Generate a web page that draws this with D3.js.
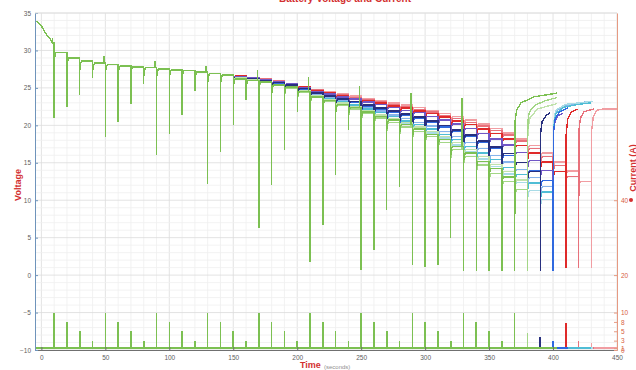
<!DOCTYPE html>
<html>
<head>
<meta charset="utf-8">
<script src="https://cdn.jsdelivr.net/npm/d3@7"></script>
<style>
  html, body { margin: 0; padding: 0; background: #fff; }
  svg { display: block; font-family: "Liberation Sans", Arial, sans-serif; }
</style>
</head>
<body>
<svg id="chart" width="636" height="370"></svg>
<script>
// opening relaxation before the first pulse
const initTime = [-5, -3, -1, 1, 3, 5, 7, 8.5]
const initVoltage = [33.9, 33.8, 33.5, 33.0, 32.4, 31.9, 31.5, 31.0]

// pulse schedule (s), pulse minimum voltage, pulse current (A)
const pulseTimes = [10, 20, 30, 40, 50, 60, 70, 80, 90, 100, 110, 120, 130, 140, 150, 160, 170, 180, 190, 200,
	210, 220, 230, 240, 250, 260, 270, 280, 290, 300, 310, 320, 330, 340, 350, 360, 370, 380, 390, 400, 410, 420, 430]
const pulseMin = [21.0, 22.5, 24.0, 26.3, 18.5, 20.5, 22.8, 25.5, 16.0, 18.8, 21.4, 24.6, 12.2, 16.5, 20.0, 23.4,
	6.3, 12.0, 16.7, 21.8, 1.8, 6.7, 13.4, 19.4, 0.7, 3.4, 8.7, 11.7, 1.4, 1.1, 1.4, 5.0, 0.5, 0.5, 0.5, 0.5,
	0.5, 0.5, 0.5, 0.5, 1.0, 1.0, 1.0]
const pulseCurrent = [10, 7.5, 5, 2.5, 10, 7.5, 5, 2.5, 10, 7.5, 5, 2.5, 10, 7.5, 5, 2.5, 10, 7.5, 5, 2.5,
	10, 7.5, 5, 2.5, 10, 7.5, 5, 2.5, 10, 7.5, 5, 2.5, 10, 7.5, 5, 2.5, 10, 4.5, 3.5, 2.4, 7.2, 2.5, 2.0]
const restCurrent = 0.6

// short overshoot seen just before each 10 A pulse
const spikeTimes = [10, 50, 90, 130, 170, 210, 250, 290, 330]
const spikeVoltage = [31.6, 29.3, 28.6, 27.9, 27.4, 26.4, 25.2, 24.3, 23.6]

// rest level after each pulse, shared by all cells for t = 10..140
const commonLevel = [29.7, 29.0, 28.6, 28.3, 28.1, 27.9, 27.8, 27.7, 27.5, 27.4, 27.3, 27.1, 26.9, 26.7]
const splitStart = 150

// per-cell rest levels from t = 150 until the last pulse before cut-off
const levelSalmon = [26.6, 26.4, 26.2, 25.9, 25.6, 25.2, 24.8, 24.5, 24.2, 23.9, 23.6, 23.3, 23.0, 22.7, 22.4, 22.0, 21.6, 21.2, 20.7, 20.2, 19.6, 19.0, 18.2, 17.3, 16.3, 15.1, 13.9, 12.5]
const levelPink = [26.6, 26.4, 26.2, 25.9, 25.6, 25.2, 24.7, 24.4, 24.1, 23.7, 23.4, 23.1, 22.8, 22.5, 22.1, 21.8, 21.3, 20.9, 20.4, 19.9, 19.3, 18.7, 17.9, 16.9, 15.8, 14.6, 13.2]
const levelRed = [26.6, 26.4, 26.1, 25.8, 25.5, 25.1, 24.6, 24.3, 24.0, 23.6, 23.3, 23.0, 22.6, 22.3, 21.9, 21.6, 21.1, 20.6, 20.1, 19.5, 18.9, 18.2, 17.3, 16.3, 15.1, 13.8]
const levelPurple = [26.5, 26.3, 26.1, 25.8, 25.5, 25.0, 24.5, 24.2, 23.8, 23.5, 23.1, 22.8, 22.4, 22.0, 21.7, 21.2, 20.7, 20.2, 19.6, 18.9, 18.2, 17.4, 16.4, 15.3, 14.0]
const levelLightBlue = [26.4, 26.2, 25.9, 25.5, 25.2, 24.7, 24.1, 23.7, 23.3, 22.8, 22.4, 21.9, 21.4, 20.9, 20.4, 19.9, 19.2, 18.5, 17.7, 16.9, 16.0, 15.1, 14.1, 13.0, 11.8]
const levelPaleCyan = [26.3, 26.1, 25.8, 25.4, 25.1, 24.5, 23.9, 23.4, 22.9, 22.4, 21.9, 21.3, 20.8, 20.2, 19.7, 19.0, 18.3, 17.4, 16.5, 15.5, 14.5, 13.5, 12.4, 11.3, 10.1]
const levelCyan = [26.3, 26.1, 25.9, 25.5, 25.2, 24.6, 24.0, 23.6, 23.1, 22.7, 22.2, 21.7, 21.2, 20.6, 20.1, 19.5, 18.8, 18.1, 17.2, 16.3, 15.4, 14.4, 13.4, 12.3, 11.1]
const levelBlue = [26.4, 26.2, 26.0, 25.6, 25.3, 24.8, 24.3, 23.9, 23.5, 23.1, 22.6, 22.2, 21.8, 21.3, 20.9, 20.4, 19.8, 19.2, 18.5, 17.7, 16.9, 16.0, 15.0, 13.9, 12.6]
const levelNavy = [26.4, 26.2, 26.0, 25.7, 25.4, 24.9, 24.3, 23.9, 23.5, 23.2, 22.7, 22.3, 21.9, 21.5, 21.1, 20.6, 20.0, 19.4, 18.7, 17.9, 17.1, 16.2, 15.0, 13.8]
const levelPaleGreen = [26.3, 26.1, 25.8, 25.4, 25.1, 24.6, 23.9, 23.4, 23.0, 22.5, 22.0, 21.4, 20.9, 20.4, 19.8, 19.2, 18.5, 17.7, 16.8, 15.8, 14.8, 13.8, 12.7]
const levelLightGreen = [26.2, 26.0, 25.7, 25.3, 25.0, 24.4, 23.7, 23.2, 22.7, 22.2, 21.6, 21.0, 20.4, 19.8, 19.2, 18.5, 17.7, 16.8, 15.8, 14.7, 13.6, 12.5, 11.4]
const levelGreen = [26.2, 26.0, 25.8, 25.4, 25.1, 24.5, 23.8, 23.3, 22.8, 22.4, 21.8, 21.2, 20.7, 20.1, 19.5, 18.8, 18.1, 17.2, 16.3, 15.2, 14.2, 13.1]

// time of the final (cut-off) pulse for each cell
const cutoffTime = [430, 420, 410, 400, 400, 400, 400, 400, 390, 380, 380, 370]

// open-circuit recovery after cut-off, [time, voltage]
const recoverSalmon = [[430.3, 19.5], [431.5, 21.2], [434, 22.0], [440, 22.2], [450, 22.2]]
const recoverPink = [[420.3, 19.5], [421.5, 21.0], [424, 21.8], [432, 22.2]]
const recoverRed = [[410.3, 19.0], [411.5, 20.8], [414, 21.7], [419, 22.2]]
const recoverPurple = [[400.3, 19.0], [401.5, 20.5], [404, 21.3], [408, 21.6]]
const recoverLightBlue = [[400.3, 19.8], [402, 21.8], [408, 22.6], [425, 23.1]]
const recoverPaleCyan = [[400.3, 20.0], [402, 22.0], [410, 22.8], [431, 23.2]]
const recoverCyan = [[400.3, 19.5], [402, 21.5], [408, 22.4], [420, 22.8], [430, 23.0]]
const recoverBlue = [[400.3, 19.0], [401.5, 20.8], [405, 21.8], [412, 22.4]]
const recoverNavy = [[390.3, 19.0], [391.5, 20.5], [395, 21.4], [398, 21.7]]
const recoverPaleGreen = [[380.3, 19.5], [382, 21.0], [388, 22.2], [403, 22.9]]
const recoverLightGreen = [[380.3, 20.5], [381.5, 21.8], [386, 22.7], [394, 23.3], [403, 23.7]]
const recoverGreen = [[370.3, 20.5], [371.5, 22.0], [375, 23.0], [385, 23.8], [403, 24.3]]

const voltageTicks = [-10, -5, 0, 5, 10, 15, 20, 25, 30, 35]
const currentTicks = [0, 0.5, 2.5, 5, 7.5, 10, 20, 40]
const timeTicks = [0, 50, 100, 150, 200, 250, 300, 350, 400, 450]

// drawing order: the green cell ends up on top, as in the reference
const cells = [
	{ levels: levelSalmon, recover: recoverSalmon, color: '#f19da2' },
	{ levels: levelPink, recover: recoverPink, color: '#e8717b' },
	{ levels: levelRed, recover: recoverRed, color: '#df2a2a' },
	{ levels: levelPurple, recover: recoverPurple, color: '#7157c6' },
	{ levels: levelLightBlue, recover: recoverLightBlue, color: '#86b4ec' },
	{ levels: levelPaleCyan, recover: recoverPaleCyan, color: '#a8dbe6' },
	{ levels: levelCyan, recover: recoverCyan, color: '#4fbdd5' },
	{ levels: levelBlue, recover: recoverBlue, color: '#2f69df' },
	{ levels: levelNavy, recover: recoverNavy, color: '#28307f' },
	{ levels: levelPaleGreen, recover: recoverPaleGreen, color: '#c0e2ac' },
	{ levels: levelLightGreen, recover: recoverLightGreen, color: '#a3d686' },
	{ levels: levelGreen, recover: recoverGreen, color: '#7cc052' }
].map((c, i) => ({ ...c, cutoff: cutoffTime[i] }))

const width = 636
const height = 370
const plot = { left: 35, right: 617, top: 13, bottom: 350 }

const x = d3.scaleLinear().domain([-5, 450]).range([plot.left, plot.right])
const yV = d3.scaleLinear().domain([-10, 35]).range([plot.bottom, plot.top])
const yA = d3.scaleLinear().domain([0, 90]).range([plot.bottom, plot.top])

const svg = d3.select('#chart')

svg.append('rect').attr('width', width).attr('height', height).attr('fill', '#fff')

// grid: minor every 10 s / 1 V, major every 50 s / 5 V
const grid = svg.append('g')
grid.selectAll('.vmin')
	.data(d3.range(0, 451, 10))
	.join('line')
	.attr('x1', (d) => x(d)).attr('x2', (d) => x(d))
	.attr('y1', plot.top).attr('y2', plot.bottom)
	.attr('stroke', (d) => (d % 50 === 0 ? '#dcdcdc' : '#efefef'))
	.attr('stroke-width', 0.8)
grid.selectAll('.hmin')
	.data(d3.range(-10, 36, 1))
	.join('line')
	.attr('x1', plot.left).attr('x2', plot.right)
	.attr('y1', (d) => yV(d)).attr('y2', (d) => yV(d))
	.attr('stroke', (d) => (d % 5 === 0 ? '#dcdcdc' : '#efefef'))
	.attr('stroke-width', 0.8)

function voltagePoints(cell) {
	const pts = initTime.map((t, i) => [t, initVoltage[i]])
	let prev = initVoltage[initVoltage.length - 1]
	for (let k = 0; k < pulseTimes.length; k++) {
		const t = pulseTimes[k]
		if (t > cell.cutoff) break
		const si = spikeTimes.indexOf(t)
		if (si >= 0) pts.push([t - 1.2, prev], [t - 1.2, spikeVoltage[si]], [t - 1.2, prev])
		pts.push([t, prev], [t, pulseMin[k]])
		if (t === cell.cutoff) {
			cell.recover.forEach((p) => pts.push(p))
			break
		}
		const lvl = t < splitStart ? commonLevel[k] : cell.levels[(t - splitStart) / 10]
		pts.push([t, lvl - 1.2], [t + 0.7, lvl - 0.3], [t + 1.5, lvl])
		prev = lvl
	}
	return pts
}

function currentPoints(cell) {
	const pts = [[initTime[0], restCurrent]]
	pulseTimes.forEach((t, k) => {
		if (t > cell.cutoff) return
		pts.push([t, restCurrent], [t, pulseCurrent[k]], [t, restCurrent])
	})
	pts.push([cell.recover[cell.recover.length - 1][0], restCurrent])
	return pts
}

const vLine = d3.line().x((d) => x(d[0])).y((d) => yV(d[1]))
const aLine = d3.line().x((d) => x(d[0])).y((d) => yA(d[1]))

// crisp rendering keeps the stacked pulse lines in the colour of the top cell
svg.append('g')
	.selectAll('path')
	.data(cells)
	.join('path')
	.attr('fill', 'none')
	.attr('stroke', (d) => d.color)
	.attr('stroke-width', 1.6)
	.attr('shape-rendering', 'crispEdges')
	.attr('d', (d) => aLine(currentPoints(d)))

svg.append('g')
	.selectAll('path')
	.data(cells)
	.join('path')
	.attr('fill', 'none')
	.attr('stroke', (d) => d.color)
	.attr('stroke-width', 1.4)
	.attr('shape-rendering', 'crispEdges')
	.attr('d', (d) => vLine(voltagePoints(d)))

// axes
function styleAxis(g, lineColor, textColor) {
	g.select('.domain').attr('stroke', lineColor).attr('stroke-width', 1)
	g.selectAll('.tick line').attr('stroke', lineColor)
	g.selectAll('.tick text').attr('fill', textColor).style('font-size', '6.5px')
}

svg.append('g')
	.attr('transform', `translate(0,${plot.bottom})`)
	.call(d3.axisBottom(x).tickValues(timeTicks).tickSizeInner(-3).tickSizeOuter(0).tickPadding(5))
	.call((g) => styleAxis(g, '#707070', '#606060'))

svg.append('g')
	.attr('transform', `translate(${plot.left},0)`)
	.call(d3.axisLeft(yV).tickValues(voltageTicks).tickSizeInner(-3).tickSizeOuter(0).tickPadding(4))
	.call((g) => styleAxis(g, '#6f94bb', '#606060'))

svg.append('g')
	.attr('transform', `translate(${plot.right},0)`)
	.call(d3.axisRight(yA).tickValues(currentTicks).tickSizeInner(-3).tickSizeOuter(0).tickPadding(4))
	.call((g) => styleAxis(g, '#e69a82', '#d8603f'))

svg.append('line')
	.attr('x1', plot.left).attr('x2', plot.right)
	.attr('y1', plot.top).attr('y2', plot.top)
	.attr('stroke', '#e2e2e2')

// labels (title and right label sit partly outside the frame, as in the source)
svg.append('text')
	.attr('x', 345).attr('y', 1.5)
	.attr('text-anchor', 'middle')
	.attr('fill', '#d33030')
	.style('font-size', '10px').style('font-weight', 'bold')
	.text('Battery Voltage and Current')

svg.append('text')
	.attr('transform', 'translate(21,185) rotate(-90)')
	.attr('text-anchor', 'middle')
	.attr('fill', '#d33030')
	.style('font-size', '9px').style('font-weight', 'bold')
	.text('Voltage')

svg.append('text')
	.attr('x', 300).attr('y', 368)
	.attr('fill', '#d33030')
	.style('font-size', '9px').style('font-weight', 'bold')
	.text('Time')

svg.append('text')
	.attr('x', 324).attr('y', 369)
	.attr('fill', '#909090')
	.style('font-size', '6px')
	.text('(seconds)')

svg.append('text')
	.attr('transform', 'translate(636,168) rotate(-90)')
	.attr('text-anchor', 'middle')
	.attr('fill', '#d33030')
	.style('font-size', '9px').style('font-weight', 'bold')
	.text('Current (A)')

svg.append('circle')
	.attr('cx', 631).attr('cy', 200).attr('r', 2)
	.attr('fill', '#d33030')
</script>
</body>
</html>
